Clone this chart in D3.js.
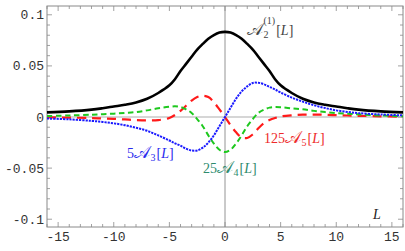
<!DOCTYPE html>
<html><head><meta charset="utf-8">
<script src="https://cdn.jsdelivr.net/npm/d3@7"></script>
<style>body{margin:0;background:#fff}svg{display:block}</style>
</head><body>
<script>
const L = [-16,-14,-12,-11,-10,-9,-8,-7,-6,-5,-4.5,-4,-3.5,-3,-2.5,-2,-1.5,-1,-0.5,0,0.5,1,1.5,2,2.5,3,3.5,4,4.5,5,6,7,8,9,10,11,12,14,16];
const A2 = [0.0045,0.0055,0.0072,0.0086,0.0103,0.012,0.0142,0.0178,0.0235,0.031,0.037,0.045,0.052,0.059,0.066,0.0715,0.0765,0.0802,0.0826,0.0833,0.0826,0.0802,0.0765,0.0715,0.066,0.059,0.052,0.045,0.037,0.031,0.0235,0.0178,0.0142,0.012,0.0103,0.0086,0.0072,0.0055,0.0045];
const A3 = [-0.0015,-0.0023,-0.0038,-0.0048,-0.0062,-0.008,-0.0105,-0.0135,-0.018,-0.023,-0.0257,-0.028,-0.031,-0.0328,-0.0327,-0.030,-0.025,-0.018,-0.009,0,0.009,0.018,0.025,0.030,0.0333,0.0335,0.032,0.0295,0.027,0.024,0.019,0.015,0.0115,0.0088,0.0065,0.005,0.0038,0.0025,0.0016];
const A4 = [0.001,0.0015,0.0022,0.0027,0.0033,0.004,0.0048,0.0065,0.0085,0.0100,0.0105,0.0098,0.0075,0.004,-0.002,-0.009,-0.018,-0.026,-0.032,-0.0343,-0.032,-0.026,-0.018,-0.009,-0.002,0.004,0.0072,0.0092,0.0098,0.0096,0.0085,0.0075,0.0060,0.0048,0.0038,0.0032,0.0026,0.0015,0.0008];
const A5 = [-0.0003,-0.0006,-0.001,-0.0014,-0.0018,-0.0024,-0.003,-0.0033,-0.003,-0.001,0.002,0.006,0.011,0.016,0.0195,0.0208,0.0195,0.0145,0.0075,0,-0.008,-0.015,-0.020,-0.0205,-0.017,-0.011,-0.006,-0.003,-0.001,0.0005,0.0017,0.0023,0.0024,0.0022,0.0018,0.0015,0.0012,0.0007,0.0004];
const xTicks = [-15,-10,-5,0,5,10,15];
const yTicks = [-0.1,-0.05,0,0.05,0.1];
const yTickLabels = ["-0.1","-0.05","0","0.05","0.1"];

const W = 405, H = 251;
const svg = d3.select("body").append("svg").attr("width", W).attr("height", H);
const x = d3.scaleLinear().domain([-16, 16]).range([47, 403]);
const y = d3.scaleLinear().domain([-0.1076, 0.1086]).range([227, 6]);

// axis lines through origin
svg.append("line").attr("x1", x(-16)).attr("x2", x(16)).attr("y1", y(0)).attr("y2", y(0))
  .attr("stroke", "#c8c8c8").attr("stroke-width", 1.6);
svg.append("line").attr("x1", x(0)).attr("x2", x(0)).attr("y1", y.range()[0]).attr("y2", y.range()[1])
  .attr("stroke", "#888").attr("stroke-width", 0.9);

// frame
const fc = "#8a8a8a";
svg.append("rect").attr("x", 47).attr("y", 6).attr("width", 356).attr("height", 221)
  .attr("fill", "none").attr("stroke", fc).attr("stroke-width", 1);

const xMinor = d3.range(-16, 17, 1);
const yMinor = d3.range(-0.10, 0.1001, 0.01);
const tk = svg.append("g").attr("stroke", fc).attr("stroke-width", 0.8);
xMinor.forEach(v => {
  const major = xTicks.includes(v);
  const len = major ? 5 : 3;
  tk.append("line").attr("x1", x(v)).attr("x2", x(v)).attr("y1", 227).attr("y2", 227 - len);
  tk.append("line").attr("x1", x(v)).attr("x2", x(v)).attr("y1", 6).attr("y2", 6 + len);
});
yMinor.forEach(v => {
  const major = Math.abs(Math.round(v * 100) % 5) === 0;
  const len = major ? 5 : 3;
  tk.append("line").attr("y1", y(v)).attr("y2", y(v)).attr("x1", 47).attr("x2", 47 + len);
  tk.append("line").attr("y1", y(v)).attr("y2", y(v)).attr("x1", 403).attr("x2", 403 - len);
});

// tick labels
const tf = "'Liberation Mono', 'DejaVu Sans Mono', monospace";
svg.append("g").selectAll("text").data(xTicks).join("text")
  .attr("x", d => x(d)).attr("y", 241).attr("text-anchor", "middle")
  .attr("font-family", tf).attr("font-size", 13).attr("fill", "#333")
  .text(d => d < 0 ? "-" + Math.abs(d) : String(d));
svg.append("g").selectAll("text").data(yTicks).join("text")
  .attr("x", 44).attr("y", d => y(d) + 4.5).attr("text-anchor", "end")
  .attr("font-family", tf).attr("font-size", 13).attr("fill", "#333")
  .text((d, i) => yTickLabels[i]);

// curves
const pts = arr => arr.map((v, i) => [L[i], v]);
const line = d3.line().x(d => x(d[0])).y(d => y(d[1])).curve(d3.curveCatmullRom.alpha(0.5));
const series = [
  {data: A5, color: "#ff1a1a", w: 2.2, dash: "9,6"},
  {data: A4, color: "#1ec81e", w: 2.0, dash: "5.5,3.5"},
  {data: A3, color: "#1a1aff", w: 2.0, dash: "2.2,1"},
  {data: A2, color: "#000", w: 2.6, dash: null}
];
series.forEach(s => {
  svg.append("path").attr("d", line(pts(s.data))).attr("fill", "none")
    .attr("stroke", s.color).attr("stroke-width", s.w)
    .attr("stroke-dasharray", s.dash);
});

// labels
const sf = "'Liberation Serif', 'DejaVu Serif', serif";
function txt(xp, yp, s, size, color, italic) {
  const t = svg.append("text").attr("x", xp).attr("y", yp).attr("font-family", sf)
    .attr("font-size", size).attr("fill", color).text(s);
  if (italic) t.attr("font-style", "italic");
  return t.node().getComputedTextLength();
}
function label(xp, yp, color, pre, sub, sup) {
  let cx = xp;
  if (pre) cx += txt(cx, yp, pre, 14, color);
  cx += txt(cx, yp, "𝒜", 17, color) + 0.5;
  let w;
  if (sup) {
    const w1 = txt(cx, yp - 11, sup, 10, color);
    const w2 = txt(cx, yp + 3, sub, 10, color);
    w = Math.max(w1, w2);
  } else {
    w = txt(cx, yp + 3, sub, 10, color);
  }
  cx += w + 1;
  cx += txt(cx, yp, "[", 14, color);
  cx += txt(cx, yp, "L", 14, color, true);
  txt(cx, yp, "]", 14, color);
}
label(247, 35, "#444", "", "2", "(1)");
label(127, 158, "#2a2aee", "5", "3", null);
label(203, 173, "#2e8b6e", "25", "4", null);
label(264, 143, "#ee2a2a", "125", "5", null);
svg.append("text").attr("x", 373).attr("y", 219).attr("font-family", sf)
  .attr("font-style", "italic").attr("font-size", 14).attr("fill", "#222").text("L");
</script>
</body></html>
